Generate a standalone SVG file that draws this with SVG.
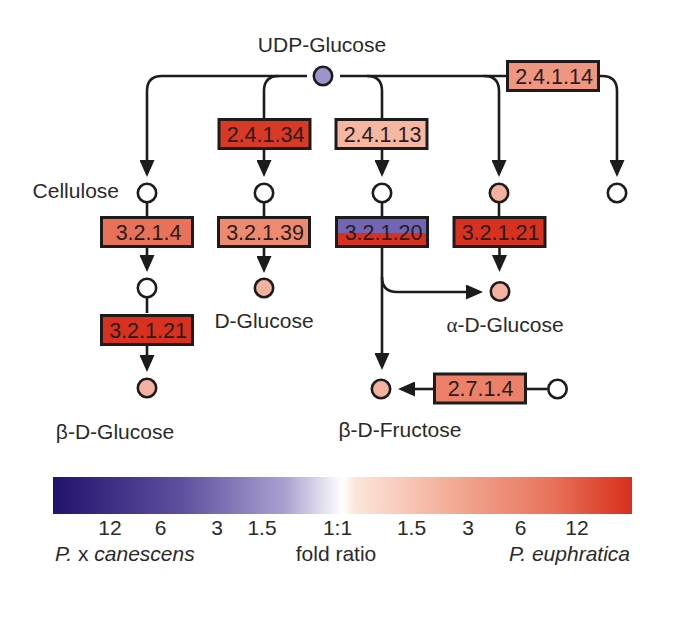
<svg xmlns="http://www.w3.org/2000/svg" width="685" height="627" viewBox="0 0 685 627">
<style>
.lbl{font-family:"Liberation Sans",Arial,sans-serif;font-size:21px;fill:#2a2a2a}
.ec{font-family:"Liberation Sans",Arial,sans-serif;font-size:21.5px;fill:#2a1c1c;text-anchor:middle}
.box{stroke:#1c1c1c;stroke-width:3}
.met{stroke:#1c1c1c;stroke-width:2.6}
.ln{fill:none;stroke:#1c1c1c;stroke-width:2.6}
.arr{marker-end:url(#ah)}
.gr{font-family:"Liberation Serif","Times New Roman",serif}
</style>
<defs>
<marker id="ah" markerUnits="userSpaceOnUse" markerWidth="17" markerHeight="15" refX="13" refY="7.5" orient="auto">
<path d="M0,0 L17,7.5 L0,15 Z" fill="#1c1c1c"/>
</marker>
<linearGradient id="fold" x1="0" y1="0" x2="1" y2="0">
<stop offset="0" stop-color="#24136e"/>
<stop offset="0.22" stop-color="#5e4f9e"/>
<stop offset="0.4" stop-color="#aaa0d0"/>
<stop offset="0.5" stop-color="#ffffff"/>
<stop offset="0.52" stop-color="#fce6dc"/>
<stop offset="0.7" stop-color="#f2a891"/>
<stop offset="0.86" stop-color="#e8735b"/>
<stop offset="1" stop-color="#d72f1c"/>
</linearGradient>
<linearGradient id="split" x1="0" y1="0" x2="0" y2="1">
<stop offset="0.52" stop-color="#7165b4"/>
<stop offset="0.52" stop-color="#d8311f"/>
</linearGradient>
</defs>

<g id="connectors">
<path class="ln" d="M340,76 H506"/>
<path class="ln arr" d="M307,76 H162 Q147,76 147,91 V173"/>
<path class="ln" d="M279,76 Q264,76 264,91 V118"/>
<path class="ln" d="M367,76 Q382,76 382,91 V118"/>
<path class="ln arr" d="M484,76 Q499,76 499,91 V173"/>
<path class="ln arr" d="M600,76 H602 Q617,76 617,91 V173"/>
<path class="ln arr" d="M264,150 V173"/>
<path class="ln arr" d="M382,150 V173"/>
<path class="ln" d="M147,203 V216"/>
<path class="ln" d="M264,203 V216"/>
<path class="ln" d="M382,203 V216"/>
<path class="ln" d="M499,203 V216"/>
<path class="ln arr" d="M147,248 V268"/>
<path class="ln arr" d="M264,248 V269"/>
<path class="ln arr" d="M499.5,248 V268"/>
<path class="ln" d="M147,298 V313"/>
<path class="ln arr" d="M147,346 V368"/>
<path class="ln arr" d="M382,248 V366"/>
<path class="ln arr" d="M382,277 Q382,292 397,292 H479"/>
<path class="ln arr" d="M433,389 H402"/>
<path class="ln" d="M527,389 H547"/>
</g>

<g id="udp-glucose">
<circle class="met" cx="323" cy="76" r="9.2" fill="#9c94cc"/>
<text class="lbl" x="322" y="52" text-anchor="middle">UDP-Glucose</text>
</g>
<g id="cellulose">
<circle class="met" cx="147" cy="193" r="9.2" fill="#ffffff"/>
<text class="lbl" x="119" y="198" text-anchor="end">Cellulose</text>
</g>
<g id="c2-top"><circle class="met" cx="264" cy="193" r="9.2" fill="#ffffff"/></g>
<g id="c3-top"><circle class="met" cx="382" cy="193" r="9.2" fill="#ffffff"/></g>
<g id="c4-top"><circle class="met" cx="499" cy="193" r="9.2" fill="#f4b1a0"/></g>
<g id="c5-top"><circle class="met" cx="617" cy="193" r="9.2" fill="#ffffff"/></g>
<g id="c1-mid"><circle class="met" cx="147" cy="288" r="9.2" fill="#ffffff"/></g>
<g id="d-glucose">
<circle class="met" cx="264" cy="288" r="9.2" fill="#f4b1a0"/>
<text class="lbl" x="264" y="328" text-anchor="middle">D-Glucose</text>
</g>
<g id="alpha-d-glucose">
<circle class="met" cx="500" cy="291.5" r="9.2" fill="#f4b1a0"/>
<text class="lbl" x="505" y="332" text-anchor="middle"><tspan class="gr">α</tspan>-D-Glucose</text>
</g>
<g id="beta-d-glucose">
<circle class="met" cx="147" cy="388" r="9.2" fill="#f4b1a0"/>
<text class="lbl" x="115" y="439" text-anchor="middle">β-D-Glucose</text>
</g>
<g id="beta-d-fructose">
<circle class="met" cx="381" cy="389" r="9.2" fill="#f4b1a0"/>
<text class="lbl" x="400" y="437" text-anchor="middle">β-D-Fructose</text>
</g>
<g id="c-fru-src"><circle class="met" cx="557.5" cy="389" r="9.2" fill="#ffffff"/></g>

<g id="ec-2.4.1.34"><rect class="box" x="219" y="119.5" width="91" height="29" fill="#d93a26"/><text class="ec" x="265.5" y="141.5">2.4.1.34</text></g>
<g id="ec-2.4.1.13"><rect class="box" x="336" y="119.5" width="91" height="29" fill="#f5b6a2"/><text class="ec" x="382.5" y="141.5">2.4.1.13</text></g>
<g id="ec-2.4.1.14"><rect class="box" x="507.5" y="61.5" width="91" height="29" fill="#ef9680"/><text class="ec" x="554" y="83.5">2.4.1.14</text></g>
<g id="ec-3.2.1.4"><rect class="box" x="101.5" y="217.5" width="91" height="29" fill="#e8715a"/><text class="ec" x="148.5" y="239.5">3.2.1.4</text></g>
<g id="ec-3.2.1.39"><rect class="box" x="218.5" y="217.5" width="91" height="29" fill="#ed8a70"/><text class="ec" x="265" y="239.5">3.2.1.39</text></g>
<g id="ec-3.2.1.20"><rect class="box" x="336.5" y="217.5" width="91" height="29" fill="url(#split)"/><text class="ec" x="383.5" y="239.5">3.2.1.20</text></g>
<g id="ec-3.2.1.21-a"><rect class="box" x="454" y="217.5" width="91" height="29" fill="#d8311f"/><text class="ec" x="500.5" y="239.5">3.2.1.21</text></g>
<g id="ec-3.2.1.21-b"><rect class="box" x="101.5" y="315.5" width="91" height="29" fill="#d8311f"/><text class="ec" x="148" y="337.5">3.2.1.21</text></g>
<g id="ec-2.7.1.4"><rect class="box" x="434.5" y="374" width="91" height="29" fill="#ec8068"/><text class="ec" x="480.5" y="396">2.7.1.4</text></g>

<g id="legend">
<rect x="53" y="477" width="579" height="37" fill="url(#fold)"/>
<g class="lbl" text-anchor="middle">
<text x="110" y="535">12</text>
<text x="160.5" y="535">6</text>
<text x="217" y="535">3</text>
<text x="262" y="535">1.5</text>
<text x="337.5" y="535">1:1</text>
<text x="411.5" y="535">1.5</text>
<text x="468" y="535">3</text>
<text x="520.5" y="535">6</text>
<text x="577" y="535">12</text>
<text x="336" y="561">fold ratio</text>
</g>
<text class="lbl" x="55" y="561" font-style="italic">P.<tspan font-style="normal"> x </tspan>canescens</text>
<text class="lbl" x="630" y="561" text-anchor="end" font-style="italic">P. euphratica</text>
</g>
</svg>
